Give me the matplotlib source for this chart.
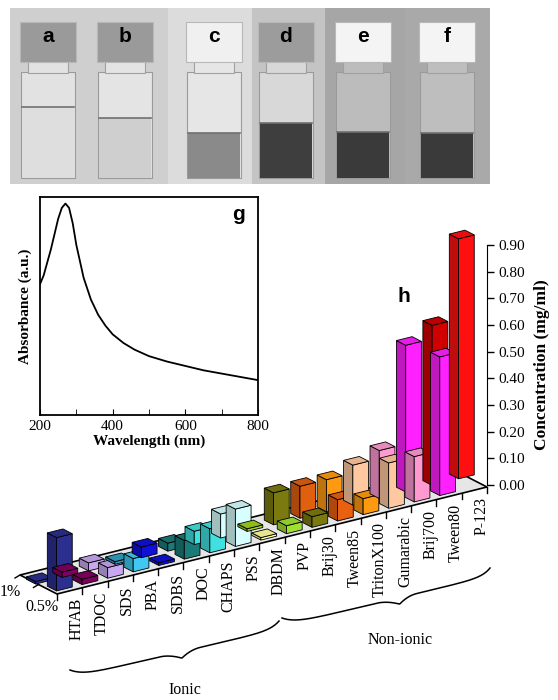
import matplotlib
matplotlib.use("Agg")
import matplotlib.pyplot as plt
from matplotlib.patches import Polygon, Rectangle
import numpy as np

W, H = 558, 700
fig = plt.figure(figsize=(W/100, H/100), dpi=100)
fig.patch.set_facecolor("white")
SERIF = ["Liberation Serif", "DejaVu Serif"]

# ---------------- data ----------------
vial_labels = ["a", "b", "c", "d", "e", "f"]
vial_x = [48, 125, 214, 286, 363, 447]
vial_bg = ["#cfcfcf", "#cfcfcf", "#dcdcdc", "#c4c4c4", "#a6a6a6", "#a9a9a9"]
vial_cap = ["#9a9a9a", "#9a9a9a", "#f0f0f0", "#9c9c9c", "#f4f4f4", "#f4f4f4"]
vial_level = [107, 118, 133, 123, 132, 133]
vial_liquid = ["#dedede", "#cfcfcf", "#8a8a8a", "#3e3e3e", "#3a3a3a", "#3a3a3a"]
vial_glass = ["#e2e2e2", "#e4e4e4", "#e6e6e6", "#d8d8d8", "#bcbcbc", "#bebebe"]

wl = [200, 210, 220, 230, 240, 250, 260, 270, 280, 290, 300, 320, 340, 360, 380, 400,
      430, 460, 500, 550, 600, 650, 700, 750, 800]
absorb = [0.60, 0.64, 0.70, 0.76, 0.83, 0.90, 0.95, 0.97, 0.95, 0.88, 0.78, 0.63, 0.53, 0.46,
          0.41, 0.37, 0.33, 0.30, 0.27, 0.245, 0.225, 0.205, 0.19, 0.175, 0.16]

surfactants = ["HTAB", "TDOC", "SDS", "PBA", "SDBS", "DOC", "CHAPS", "PSS", "DBDM", "PVP",
               "Brij30", "Tween85", "TritonX100", "Gumarabic", "Brij700", "Tween80", "P-123"]
conc_1pct = [0.005, 0.02, 0.03, 0.01, 0.04, 0.03, 0.05, 0.09, 0.01, 0.12, 0.12, 0.12,
             0.15, 0.18, 0.55, 0.60, 0.90]
conc_05pct = [0.20, 0.02, 0.04, 0.05, 0.01, 0.07, 0.09, 0.14, 0.005, 0.03, 0.04, 0.08,
              0.06, 0.17, 0.17, 0.52, 0.0]
col_1pct = ["#2b2f8f", "#800060", "#c8a8f0", "#2fa0c0", "#1010d8", "#1a7a78", "#40e0e0",
            "#d8ffff", "#a0d020", "#7a7a10", "#e06010", "#ff9a10", "#ffc8a0", "#ff9ad0",
            "#ff20ff", "#d00000", "#ff1010"]
col_05pct = ["#2b2f8f", "#800060", "#c8a8f0", "#40c8f0", "#1010d8", "#1a7a78", "#40e0e0",
             "#d8ffff", "#ffffa0", "#a0e030", "#7a7a10", "#e86010", "#ff9a10", "#ffc8a0",
             "#ff9ad0", "#ff20ff", "#ff1010"]
conc_ticks = [0.0, 0.1, 0.2, 0.3, 0.4, 0.5, 0.6, 0.7, 0.8, 0.9]

# ---------------- photo ----------------
axp = fig.add_axes([10/W, 1-184/H, 480/W, 176/H])
axp.set_xlim(10, 490); axp.set_ylim(184, 8); axp.axis("off")
edges = [10, 86, 168, 252, 325, 405, 490]
for i in range(6):
    axp.add_patch(Rectangle((edges[i], 8), edges[i+1]-edges[i], 176, color=vial_bg[i], lw=0))
for i, x in enumerate(vial_x):
    bw = 54
    axp.add_patch(Rectangle((x-bw/2, 72), bw, 106, color=vial_glass[i], ec="#9a9a9a", lw=0.8))
    axp.add_patch(Rectangle((x-bw/2+1, vial_level[i]), bw-2, 178-vial_level[i], color=vial_liquid[i], lw=0))
    axp.plot([x-bw/2+1, x+bw/2-1], [vial_level[i], vial_level[i]], color="#707070", lw=1.2)
    axp.add_patch(Rectangle((x-20, 60), 40, 13, color=vial_glass[i], ec="#a0a0a0", lw=0.8))
    axp.add_patch(Rectangle((x-28, 22), 56, 40, color=vial_cap[i], ec="#b8b8b8", lw=0.8))
    axp.text(x, 37, vial_labels[i], ha="center", va="center", fontsize=15,
             fontweight="bold", family="Liberation Sans", color="black")

# ---------------- bar chart (oblique) ----------------
axb = fig.add_axes([0, 0, 1, 1], zorder=1)
axb.set_xlim(0, W); axb.set_ylim(H, 0); axb.axis("off"); axb.patch.set_alpha(0)

axc = fig.add_axes([487/W, 1-485/H, 0.0001, 240/H], zorder=2)
axc.set_ylim(0, 0.9)
axc.patch.set_alpha(0)
for s in ["top", "bottom", "left"]:
    axc.spines[s].set_visible(False)
axc.set_xticks([])
axc.yaxis.tick_right()
axc.set_yticks(conc_ticks)
axc.set_yticklabels([f"{t:.2f}" for t in conc_ticks], family=SERIF, fontsize=11)
axc.tick_params(axis="y", length=5, width=1)
axc.yaxis.set_label_position("right")
axc.set_ylabel("Concentration (mg/ml)", family=SERIF, fontsize=12.5, fontweight="bold", labelpad=6)

fig.canvas.draw()
def hpx(v):
    d0 = axc.transData.transform((0, 0))[1]
    d1 = axc.transData.transform((0, v))[1]
    return d1 - d0

F0 = np.array([57.0, 594.0]); F1 = np.array([487.0, 487.0])
D = np.array([-37.0, -19.0])
Db = np.array([-37.0, -12.0])
n = len(surfactants)
u = (F1 - F0) / n

axb.add_patch(Polygon([F0, F1, F1 + D, F0 + D], closed=True, fc="#e6e6e6", ec="black", lw=1.2, zorder=1))

def shade(c, f):
    r = np.array(matplotlib.colors.to_rgb(c))
    return tuple(np.clip(r * f, 0, 1))

def bar(i, depth, v, c, z, stretch):
    if v <= 0:
        return
    base = F0 + u * (i + 0.2) * stretch + Db * depth
    w = u * 0.62
    dd = D * 0.25
    h = np.array([0, -max(hpx(v), 2.5)])
    p0, p1 = base, base + w
    front = [p0, p1, p1 + h, p0 + h]
    left = [p0, p0 + dd, p0 + dd + h, p0 + h]
    top = [p0 + h, p1 + h, p1 + dd + h, p0 + dd + h]
    axb.add_patch(Polygon(left, fc=shade(c, 0.75), ec="black", lw=0.6, zorder=z))
    axb.add_patch(Polygon(front, fc=c, ec="black", lw=0.6, zorder=z))
    axb.add_patch(Polygon(top, fc=shade(c, 0.9), ec="black", lw=0.6, zorder=z))

for i in range(n):
    bar(i, 0.72, conc_1pct[i], col_1pct[i], 2 + i * 2, 1.045)
for i in range(n):
    bar(i, 0.15, conc_05pct[i], col_05pct[i], 3 + i * 2, 1.01)

for i in range(n + 1):
    p = F0 + u * i
    axb.plot([p[0], p[0]], [p[1], p[1] + 6], color="black", lw=1, zorder=50)
for i, s in enumerate(surfactants):
    p = F0 + u * (i + 0.5)
    axb.text(p[0] + 7, p[1] + 7, s, rotation=90, ha="center", va="top",
             family=SERIF, fontsize=11.5, zorder=50)
for dpt in [1.0, 0.5]:
    p = F0 + D * dpt
    axb.plot([p[0], p[0] - 5], [p[1], p[1] + 3], color="black", lw=1, zorder=50)
axb.text(10, 592, "1%", family=SERIF, fontsize=11.5, ha="center", va="center")
axb.text(42, 607, "0.5%", family=SERIF, fontsize=11.5, ha="center", va="center")
axb.text(404, 297, "h", fontsize=15, fontweight="bold", family="Liberation Sans", ha="center", va="center")

def brace(p0, p1, depth, frac=0.5):
    p0 = np.array(p0, float); p1 = np.array(p1, float)
    t = np.linspace(0, 1, 300)
    d = p1 - p0
    e = d / np.hypot(*d)
    nrm = np.array([-e[1], e[0]])
    if nrm[1] < 0:
        nrm = -nrm
    s = np.where(t < frac, t / frac, (1 - t) / (1 - frac))
    prof = depth * (0.55 * (1 - np.exp(-s * 10)) + 0.45 * np.clip((s - 0.8) / 0.2, 0, 1) ** 2)
    pts = p0[None, :] + t[:, None] * d[None, :] + prof[:, None] * nrm[None, :]
    axb.plot(pts[:, 0], pts[:, 1], color="black", lw=1.1)

brace((70, 670), (279, 621), 14, 0.52)
brace((282, 618), (490, 568), 14, 0.55)
axb.text(185, 690, "Ionic", family=SERIF, fontsize=11.5, ha="center", va="center")
axb.text(400, 640, "Non-ionic", family=SERIF, fontsize=11.5, ha="center", va="center")

# ---------------- inset spectrum ----------------
axg = fig.add_axes([40/W, 1-415/H, 218/W, 218/H], zorder=3)
axg.plot(wl, absorb, color="black", lw=1.3)
axg.set_xlim(200, 800); axg.set_ylim(0, 1)
axg.set_xticks([200, 400, 600, 800])
axg.set_xticks([300, 500, 700], minor=True)
axg.set_xticklabels(["200", "400", "600", "800"], family=SERIF, fontsize=11)
axg.set_yticks([])
axg.tick_params(axis="x", which="both", direction="in", length=4)
for s in axg.spines.values():
    s.set_linewidth(1.3)
axg.set_xlabel("Wavelength (nm)", family=SERIF, fontsize=11, fontweight="bold", labelpad=1)
axg.set_ylabel("Absorbance (a.u.)", family=SERIF, fontsize=11, fontweight="bold", labelpad=6)
axg.text(0.91, 0.92, "g", transform=axg.transAxes, fontsize=15, fontweight="bold",
         family="Liberation Sans", ha="center", va="center")

fig.savefig("out.png", dpi=100)
